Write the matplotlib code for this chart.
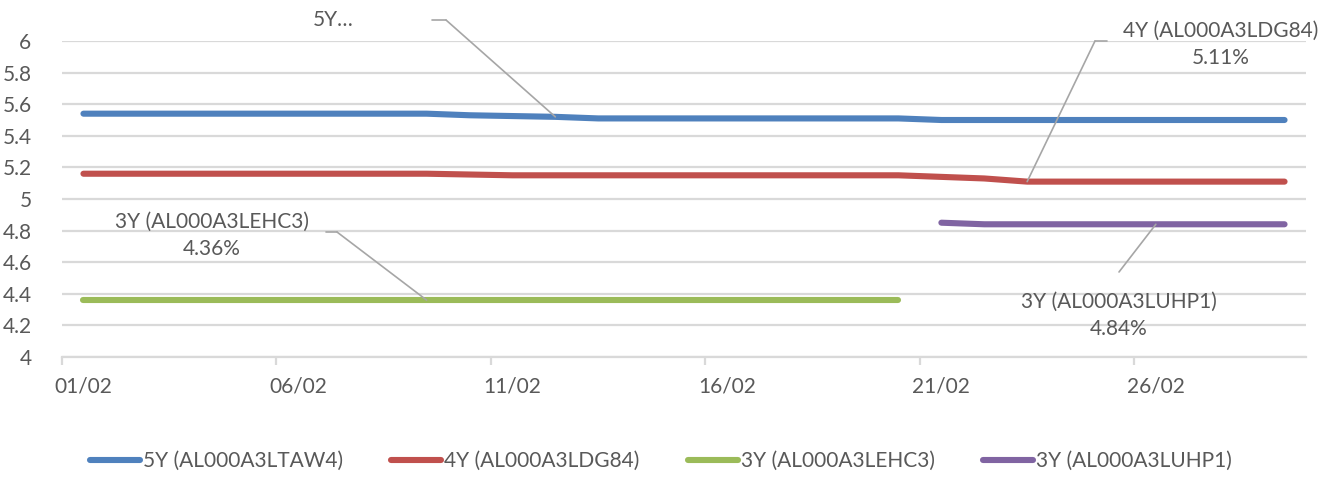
import numpy as np
import matplotlib
matplotlib.use("Agg")
import matplotlib.pyplot as plt

plt.rcParams["font.family"] = ["Lato", "DejaVu Sans"]

nan = np.nan
days = list(range(1, 30))
tick_labels = ["01/02", "06/02", "11/02", "16/02", "21/02", "26/02"]

series_names = ["5Y (AL000A3LTAW4)", "4Y (AL000A3LDG84)",
                "3Y (AL000A3LEHC3)", "3Y (AL000A3LUHP1)"]
y_5y = [5.54] * 9 + [5.53, 5.525, 5.52] + [5.51] * 8 + [5.50] * 9
y_4y = [5.16] * 9 + [5.155, 5.15] + [5.15] * 9 + [5.14, 5.13] + [5.11] * 7
y_3y_a = [4.36] * 20 + [nan] * 9
y_3y_b = [nan] * 20 + [4.85] + [4.84] * 8
colors = ["#4F81BD", "#C0504D", "#9BBB59", "#8064A2"]

text_col = "#595959"
grid_col = "#D9D9D9"
lead_col = "#A6A6A6"

fig = plt.figure(figsize=(13.22, 4.9), dpi=100)
ax = fig.add_axes([62 / 1322, 133 / 490, (1306 - 62) / 1322, (449 - 133) / 490])

x = np.array(days) - 0.5
for vals, col, name in zip([y_5y, y_4y, y_3y_a, y_3y_b], colors, series_names):
    ax.plot(x, vals, color=col, lw=4.4, solid_capstyle="round", label=name)

ax.set_xlim(0, 29)
ax.set_ylim(4, 6)
ax.set_yticks(np.arange(4, 6.01, 0.2))
ax.set_yticklabels(["4", "4.2", "4.4", "4.6", "4.8", "5", "5.2", "5.4", "5.6", "5.8", "6"])
ax.yaxis.grid(True, color=grid_col, lw=1.6)
ax.set_axisbelow(True)

ax.set_xticks([0, 5, 10, 15, 20, 25])
ax.set_xticklabels([])
ax.set_xticks([0.5, 5.5, 10.5, 15.5, 20.5, 25.5], minor=True)
ax.set_xticklabels(tick_labels, minor=True)
ax.tick_params(axis="x", which="major", length=6, width=1.6, color=grid_col)
ax.tick_params(axis="x", which="minor", length=0, pad=14, labelsize=15, labelcolor=text_col)
ax.tick_params(axis="y", length=0, pad=22, labelsize=15, labelcolor=text_col)

for s in ["top", "right", "left"]:
    ax.spines[s].set_visible(False)
ax.spines["bottom"].set_color(grid_col)
ax.spines["bottom"].set_linewidth(1.6)

# data callouts with leader lines (positions in figure pixels)
H = 490
callouts = [
    # text, text pos, stub start, stub end, series idx, day
    ("5Y…", (333, H - 20), (432, H - 20), (446, H - 20), 0, 12),
    ("4Y (AL000A3LDG84)\n5.11%", (1221, H - 44), (1107, H - 41), (1095, H - 41), 1, 23),
    ("3Y (AL000A3LEHC3)\n4.36%", (212, H - 235), (326, H - 232), (337, H - 232), 2, 9),
    ("3Y (AL000A3LUHP1)\n4.84%", (1119, H - 315), None, (1119, H - 272), 3, 26),
]
all_series = [y_5y, y_4y, y_3y_a, y_3y_b]
for txt, tpos, s0, s1, idx, day in callouts:
    fig.text(tpos[0] / 1322, tpos[1] / H, txt, ha="center", va="center",
             fontsize=15, color=text_col, linespacing=1.45)
    if s0 is not None:
        ax.annotate("", xy=s1, xycoords="figure pixels", xytext=s0,
                    textcoords="figure pixels",
                    arrowprops=dict(arrowstyle="-", color=lead_col, lw=1.2,
                                    shrinkA=0, shrinkB=0))
    ax.annotate("", xy=(day - 0.5, all_series[idx][day - 1]), xycoords="data",
                xytext=s1, textcoords="figure pixels",
                arrowprops=dict(arrowstyle="-", color=lead_col, lw=1.2,
                                shrinkA=0, shrinkB=0))

fig.legend(loc="lower center", bbox_to_anchor=(0.5, 0.0), ncol=4, frameon=False,
           fontsize=15, labelcolor=text_col, handlelength=2.4,
           handletextpad=0.15, columnspacing=2.3)

fig.savefig("out.png", dpi=100)
